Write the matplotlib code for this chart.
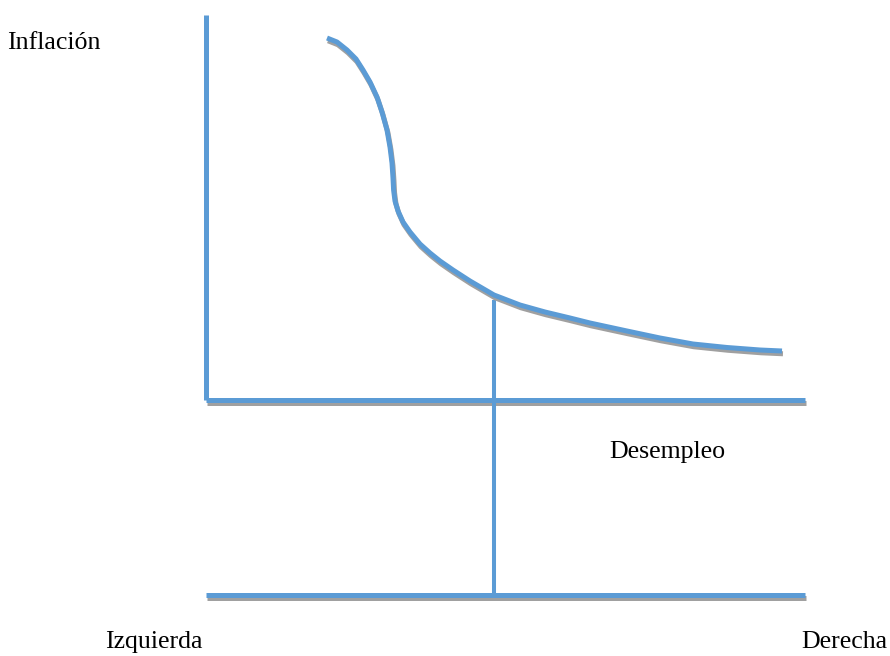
import matplotlib
matplotlib.use("Agg")
import matplotlib.pyplot as plt
import matplotlib.patheffects as pe

# Curve (Phillips-like) points, in diagram units (x right, y down)
curve_x = [327, 337, 347, 356, 363, 370, 377, 382, 387, 390, 392, 393, 393.6, 395, 398, 403, 410, 420, 430, 440, 453, 470, 494, 520, 545, 570, 590, 627, 660, 693, 727, 760, 782]
curve_y = [38, 42, 50, 59, 70, 82, 97, 112, 130, 147, 163, 178, 190, 201, 211, 222, 232, 244, 253, 261, 270, 281, 295, 305, 312, 318, 323, 331, 338, 344, 347.5, 350, 351]

# Axes / guide lines
yaxis_x = [206, 206]
yaxis_y = [15, 400]
xaxis_x = [206, 805]
xaxis_y = [400, 400]
bottom_x = [206, 805]
bottom_y = [595, 595]
vline_x = [494, 494]
vline_y = [300, 595]

label_text = ["Inflación", "Desempleo", "Izquierda", "Derecha"]
label_x = [7, 609, 105, 801]
label_y = [49, 458, 648, 648]

BLUE = "#5B9BD5"
GRAY = "#A0A0A0"

fig = plt.figure(figsize=(8.9, 6.56), dpi=100)
ax = fig.add_axes([0, 0, 1, 1])
ax.set_xlim(0, 890)
ax.set_ylim(656, 0)
ax.axis("off")

shadow = [pe.SimpleLineShadow(offset=(0.7, -2.0), shadow_color=GRAY, alpha=1.0), pe.Normal()]

lw = 3.6
ax.plot(yaxis_x, yaxis_y, color=BLUE, lw=lw, solid_capstyle="butt")
ax.plot(xaxis_x, xaxis_y, color=BLUE, lw=lw, solid_capstyle="butt", path_effects=shadow)
ax.plot(bottom_x, bottom_y, color=BLUE, lw=lw, solid_capstyle="butt", path_effects=shadow)
ax.plot(vline_x, vline_y, color=BLUE, lw=2.9, solid_capstyle="butt")
ax.plot(curve_x, curve_y, color=BLUE, lw=lw, solid_capstyle="butt", solid_joinstyle="round",
        path_effects=shadow)

for txt, x, y in zip(label_text, label_x, label_y):
    ax.text(x, y, txt, fontsize=18.6, family="Liberation Serif", va="baseline", ha="left", color="black")

fig.savefig("out.png", dpi=100)
